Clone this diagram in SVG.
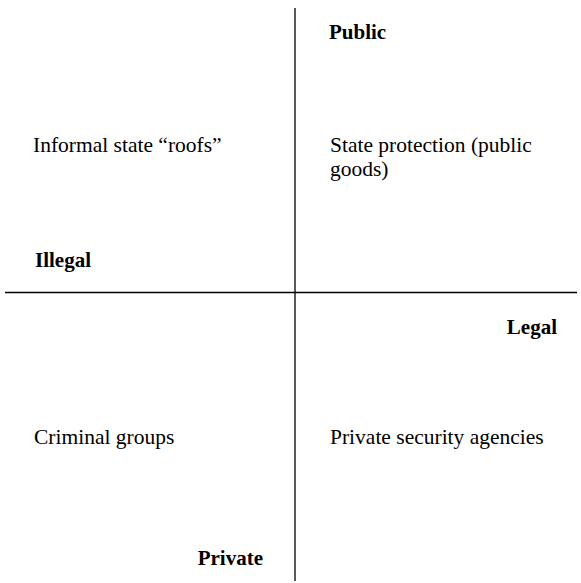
<svg xmlns="http://www.w3.org/2000/svg" width="581" height="583" viewBox="0 0 581 583">
  <style>
    .axis { stroke: #000; stroke-width: 1.3; fill: none; }
    .lbl { font-family: "Liberation Serif", serif; font-size: 21.5px; fill: #000; }
    .dim { font-family: "Liberation Serif", serif; font-size: 21px; font-weight: bold; fill: #000; }
  </style>
  <rect width="581" height="583" fill="#fff"/>
  <g id="connectors">
    <line class="axis" x1="295" y1="8" x2="295" y2="581"/>
    <line class="axis" x1="5" y1="292.5" x2="577" y2="292.5"/>
  </g>
  <g id="axis-public"><text class="dim" x="329" y="39">Public</text></g>
  <g id="axis-illegal"><text class="dim" x="35" y="267">Illegal</text></g>
  <g id="axis-legal"><text class="dim" x="557" y="334" text-anchor="end">Legal</text></g>
  <g id="axis-private"><text class="dim" x="263" y="565" text-anchor="end">Private</text></g>
  <g id="q-informal"><text class="lbl" x="33" y="152">Informal state “roofs”</text></g>
  <g id="q-state">
    <text class="lbl" x="330" y="152">State protection (public</text>
    <text class="lbl" x="330" y="176">goods)</text>
  </g>
  <g id="q-criminal"><text class="lbl" x="34" y="444">Criminal groups</text></g>
  <g id="q-private"><text class="lbl" x="330" y="444">Private security agencies</text></g>
</svg>
